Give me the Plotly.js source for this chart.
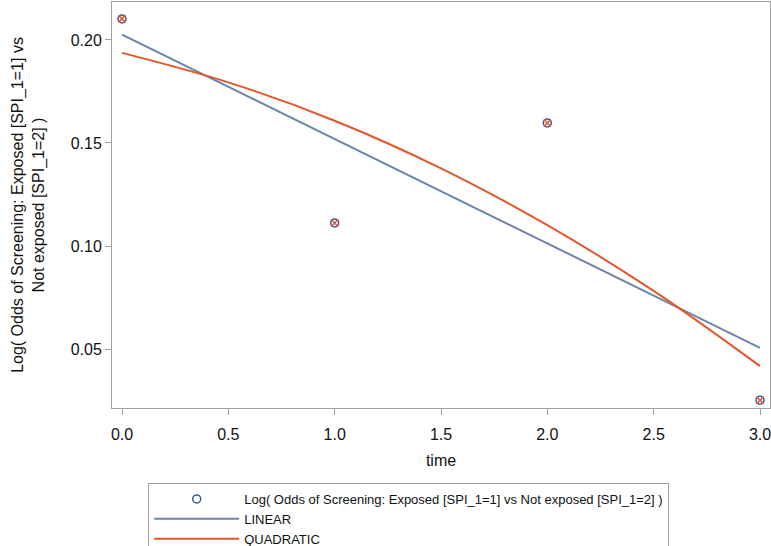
<!DOCTYPE html>
<html>
<head>
<meta charset="utf-8">
<script src="https://cdn.plot.ly/plotly-3.0.1.min.js"></script>
<style>html,body{margin:0;padding:0;background:#fff;}#chart{width:771px;height:546px;}</style>
</head>
<body>
<div id="chart"></div>
<script>
// Observed log odds
const obsTime = [0, 1, 2, 3];
const obsLogOdds = [0.2102, 0.1112, 0.1597, 0.0252];
// Linear fit
const linTime = [0, 3];
const linLogOdds = [0.2026, 0.0506];
// Quadratic fit
const quadTime = [0, 0.5, 1, 1.5, 2, 2.5, 3];
const quadLogOdds = [0.1937, 0.1794, 0.1608, 0.1377, 0.1101, 0.0782, 0.0417];
const xTicks = [0, 0.5, 1, 1.5, 2, 2.5, 3];
const xTickText = ['0.0', '0.5', '1.0', '1.5', '2.0', '2.5', '3.0'];
const yTicks = [0.05, 0.10, 0.15, 0.20];
const yTickText = ['0.05', '0.10', '0.15', '0.20'];
const seriesNames = ['Log( Odds of Screening: Exposed [SPI_1=1] vs Not exposed [SPI_1=2] )', 'LINEAR', 'QUADRATIC'];

const blue = '#6f84aa';
const orange = '#e2562b';
const font = 'Liberation Sans, Arial, sans-serif';

const traces = [
  {x: obsTime, y: obsLogOdds, type: 'scatter', mode: 'markers',
   name: seriesNames[0],
   marker: {symbol: 'circle-open', size: 8, color: '#3a5a9c', line: {width: 1.5}}},
  {x: linTime, y: linLogOdds, type: 'scatter', mode: 'lines', name: seriesNames[1],
   line: {color: blue, width: 2}},
  {x: quadTime, y: quadLogOdds, type: 'scatter', mode: 'lines', name: seriesNames[2],
   line: {color: orange, width: 2, shape: 'spline'}},
  {x: obsTime, y: obsLogOdds, type: 'scatter', mode: 'markers', showlegend: false,
   marker: {symbol: 'x-thin-open', size: 7, color: '#e2562b', line: {width: 1.5}}}
];

const layout = {
  width: 771, height: 546,
  margin: {l: 112, r: 1, t: 2, b: 138, autoexpand: false},
  paper_bgcolor: '#fff', plot_bgcolor: '#fff',
  font: {family: font, size: 15, color: '#111'},
  showlegend: true,
  xaxis: {
    range: [-0.047, 3.047], tickvals: xTicks, ticktext: xTickText,
    showgrid: false, zeroline: false, showline: true, mirror: true,
    linecolor: '#a0a0a0', linewidth: 1, ticks: 'outside', ticklen: 6, tickcolor: '#a0a0a0',
    tickfont: {size: 16, color: '#111'}, ticklabelstandoff: 6, ticklabeloverflow: 'allow',
    title: {text: 'time', font: {size: 16, color: '#111'}, standoff: 12}
  },
  yaxis: {
    range: [0.0214, 0.2184], tickvals: yTicks, ticktext: yTickText,
    showgrid: false, zeroline: false, showline: true, mirror: true,
    linecolor: '#a0a0a0', linewidth: 1, ticks: 'outside', ticklen: 6, tickcolor: '#a0a0a0',
    tickfont: {size: 16, color: '#111'}, ticklabeloverflow: 'allow',
    title: {text: 'Log( Odds of Screening: Exposed [SPI_1=1] vs<br>Not exposed [SPI_1=2] )', font: {size: 16, color: '#111'}, standoff: 22}
  },
  legend: {
    x: 0.055, y: -0.1847, xanchor: 'left', yanchor: 'top', orientation: 'v',
    bgcolor: '#fff', bordercolor: '#a0a0a0', borderwidth: 1,
    font: {size: 13, color: '#111'}, itemwidth: 85, tracegroupgap: 0
  }
};

Plotly.newPlot('chart', traces, layout, {displayModeBar: false, staticPlot: true});
</script>
</body>
</html>
